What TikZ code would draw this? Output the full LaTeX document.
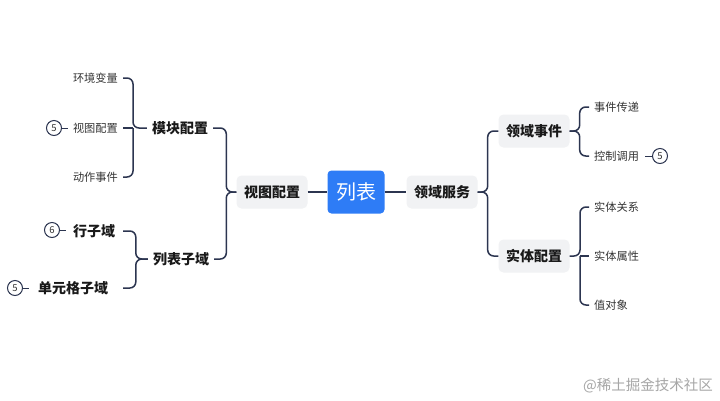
\documentclass[tikz,border=0pt]{standalone}
\usepackage{fontspec}
\setmainfont{Noto Sans CJK SC}
\usetikzlibrary{calc}
\definecolor{linec}{HTML}{2C3550}
\definecolor{boxg}{HTML}{F1F2F4}
\definecolor{blueb}{HTML}{2E7CF6}
\begin{document}
\begin{tikzpicture}[x=1pt,y=-1pt,
  conn/.style={draw=linec,line width=1.5pt,rounded corners=6pt},
  mainbox/.style={fill=blueb,rounded corners=4pt,text=white,minimum width=57pt,minimum height=43pt,inner sep=0pt,font=\fontsize{20}{21}\selectfont},
  graybox/.style={fill=boxg,rounded corners=5pt,minimum width=71pt,minimum height=33pt,inner sep=0pt,text=black!90,font=\fontsize{14}{15}\selectfont\bfseries},
  plainbold/.style={inner sep=5pt,text=black!90,font=\fontsize{14}{15}\selectfont\bfseries},
  leaf/.style={inner sep=5pt,text=black!80,font=\fontsize{11.2}{12}\selectfont},
  num/.style={draw=linec,circle,line width=1pt,minimum size=15pt,inner sep=0pt,text=black!80,font=\fontsize{9.5}{10}\selectfont}]
\useasboundingbox (0,0) rectangle (720,400);
\fill[white] (0,0) rectangle (720,400);
% center
\node[mainbox] (lb) at (356,192) {列表};
\node[graybox] (vp) at (272,192) {视图配置};
\node[graybox] (ly) at (442,192) {领域服务};
\draw[conn] (vp.east) -- (lb.west);
\draw[conn] (lb.east) -- (ly.west);
% left level 2
\node[plainbold] (mk) at (180,128) {模块配置};
\node[plainbold] (lz) at (181,259) {列表子域};
\draw[conn] (vp.west) -- ++(-10,0) |- (mk.east);
\draw[conn] (vp.west) -- ++(-10,0) |- (lz.east);
% left leaves of 模块配置
\node[leaf,anchor=east] (e1) at (123,78) {环境变量};
\node[leaf,anchor=east] (e2) at (123,128) {视图配置};
\node[leaf,anchor=east] (e3) at (123,177) {动作事件};
\coordinate (mkt) at (133,128);
\draw[conn] (mk.west) -- (mkt) |- (e1.east);
\draw[conn] (mkt) |- (e3.east);
\draw[conn] (mkt) -- (e2.east);
\node[num] (n1) at (54,128) {5};
\draw[linec,line width=1pt] (n1.east) -- ++(6,0);
% left leaves of 列表子域
\node[plainbold] (h1) at (94,231) {行子域};
\node[plainbold] (h2) at (73,288) {单元格子域};
\coordinate (h1e) at (123,231);
\coordinate (h2e) at (123,288);
\draw[conn] (lz.west) -- ++(-12,0) |- (h1e);
\draw[conn] (lz.west) -- ++(-12,0) |- (h2e);
\node[num] (n2) at (52,230) {6};
\draw[linec,line width=1pt] (n2.east) -- ++(6,0);
\node[num] (n3) at (15,288) {5};
\draw[linec,line width=1pt] (n3.east) -- ++(6,0);
% right level 2
\node[graybox] (le) at (534,131) {领域事件};
\node[graybox] (sp) at (534,256) {实体配置};
\draw[conn] (ly.east) -- ++(10,0) |- (le.west);
\draw[conn] (ly.east) -- ++(10,0) |- (sp.west);
% right leaves
\node[leaf,anchor=west] (r1) at (589,107) {事件传递};
\node[leaf,anchor=west] (r2) at (589,156) {控制调用};
\draw[conn] (le.east) -- ++(10,0) |- (r1.west);
\draw[conn] (le.east) -- ++(10,0) |- (r2.west);
\node[num] (n4) at (660,156) {5};
\draw[linec,line width=1pt] (n4.west) -- ++(-7,0);
\node[leaf,anchor=west] (s1) at (589,207) {实体关系};
\node[leaf,anchor=west] (s2) at (589,256) {实体属性};
\node[leaf,anchor=west] (s3) at (589,305) {值对象};
\coordinate (spt) at (580,256);
\draw[conn] (sp.east) -- (spt) |- (s1.west);
\draw[conn] (spt) |- (s3.west);
\draw[conn] (spt) -- (s2.west);
% watermark
\node[text=black!35,inner sep=0pt,font=\fontsize{14.5}{15}\selectfont] (wm) at (648,386) {@稀土掘金技术社区};
\end{tikzpicture}
\end{document}
